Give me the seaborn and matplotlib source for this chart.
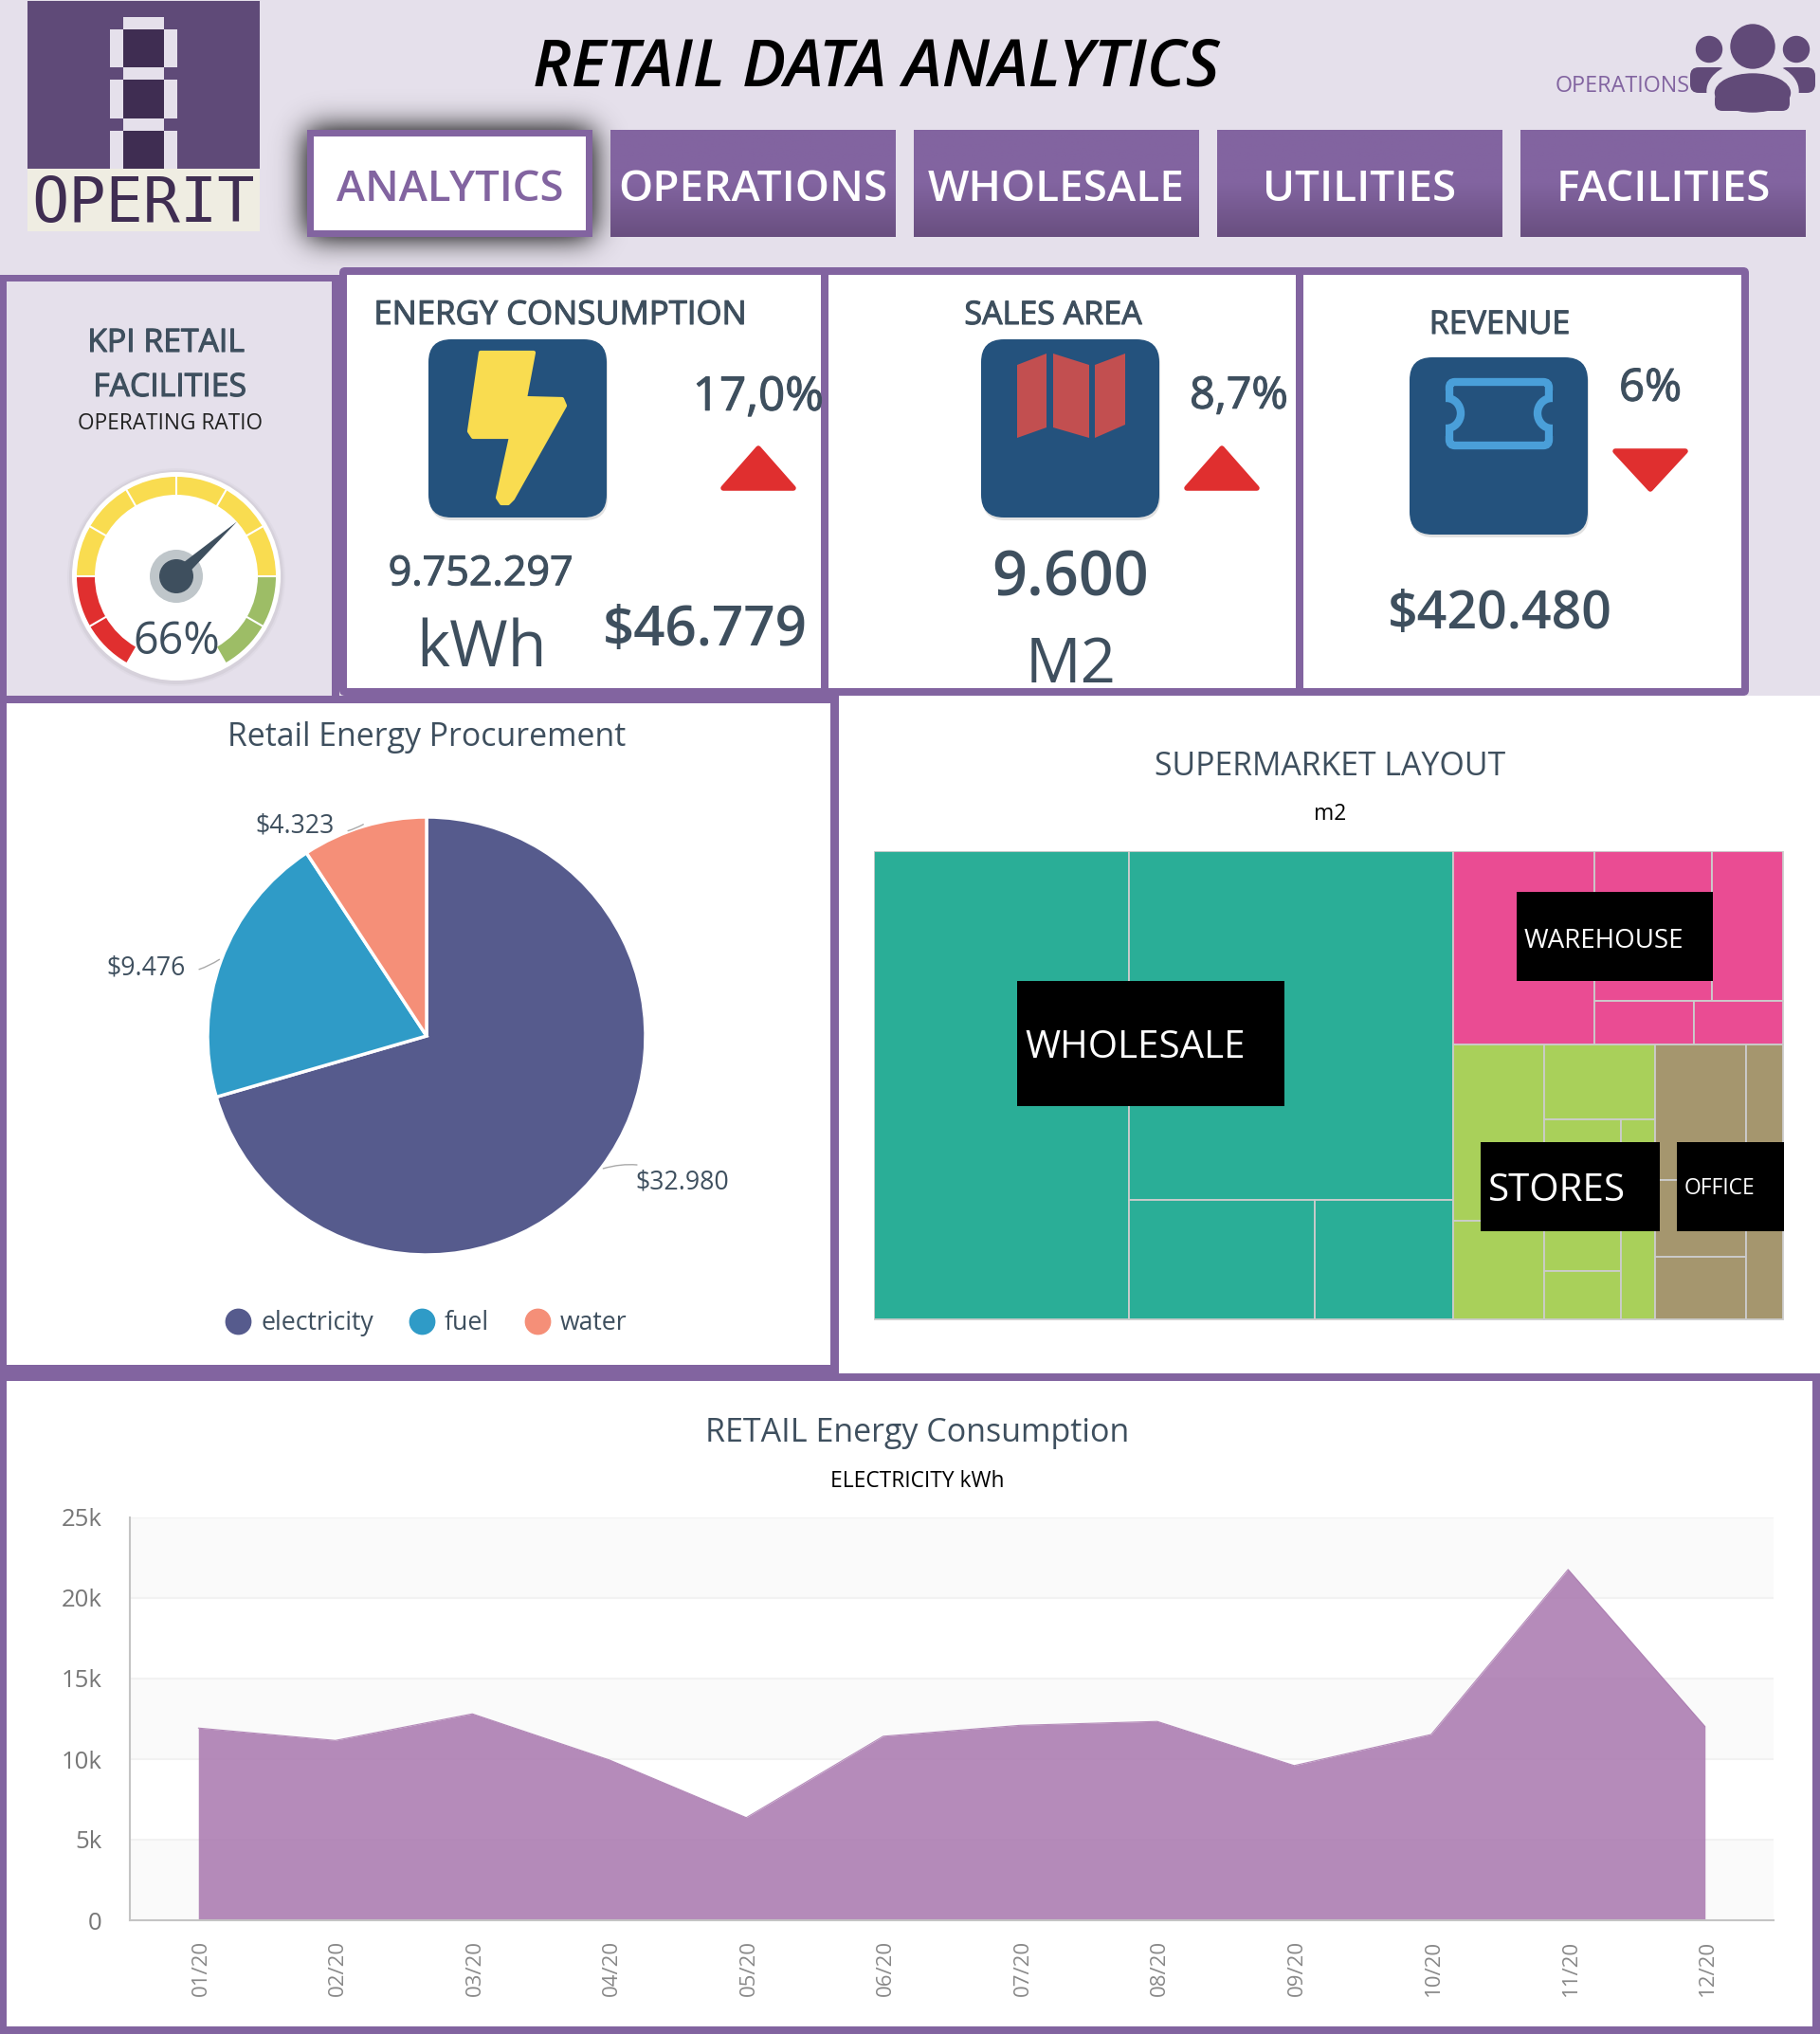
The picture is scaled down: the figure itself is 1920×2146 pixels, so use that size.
"""Retail data analytics dashboard: KPI cards, procurement pie, layout treemap, energy area chart."""
import math

import matplotlib
matplotlib.use("Agg")
import matplotlib.patheffects as pe
import matplotlib.pyplot as plt
import numpy as np
import pandas as pd
import seaborn as sns
from matplotlib.colors import LinearSegmentedColormap
from matplotlib.lines import Line2D
from matplotlib.patches import Circle, Ellipse, FancyBboxPatch, Polygon, Rectangle, Wedge
from matplotlib.transforms import ScaledTranslation

W, H = 1920, 2146

LILAC = "#E5E0EB"
PURPLE = "#8264A0"
DARK_PURPLE = "#5F4A78"
SLATE = "#3E4F5E"
NAVY = "#24527D"
RED = "#E02F2F"

NAV_LABELS = ["ANALYTICS", "OPERATIONS", "WHOLESALE", "UTILITIES", "FACILITIES"]

GAUGE_VALUE = 66
GAUGE_BANDS = [(0, 20, "#E02F2F"), (20, 80, "#F9DC50"), (80, 100, "#9DBD66")]

PIE_NAMES = ["electricity", "fuel", "water"]
PIE_VALUES = [32980, 9476, 4323]
PIE_LABELS = ["$32.980", "$9.476", "$4.323"]
PIE_COLORS = ["#565B8D", "#2F9BC7", "#F58F78"]

# treemap leaves in m2, nested as (split direction, children)
WHOLESALE_CELLS = ("x", [2693, ("y", [2550, ("x", [500, 373])])])
WAREHOUSE_CELLS = ("x", [616, ("y", [("x", [397, 240]), ("x", [98, 88])])])
STORES_CELLS = ("x", [("y", [362, 202]), ("y", [187, ("x", [("y", [263, 84]), 154])])])
OFFICE_CELLS = ("x", [("y", [278, 158, 128]), 229])
TREE_COLORS = ["#2AAE97", "#EA4C93", "#A9D05A", "#A5966E"]

MONTHS = ["01/20", "02/20", "03/20", "04/20", "05/20", "06/20",
          "07/20", "08/20", "09/20", "10/20", "11/20", "12/20"]
KWH = [11930, 11160, 12810, 9950, 6370, 11420, 12100, 12340, 9600, 11530, 21770, 12020]
Y_TICKS = [0, 5000, 10000, 15000, 20000, 25000]
Y_TICK_LABELS = ["0", "5k", "10k", "15k", "20k", "25k"]

sns.set_theme(style="white")
plt.rcParams["font.family"] = ["Open Sans", "DejaVu Sans"]


def px_axes(fig, x0, y0, x1, y1, z=1):
    ax = fig.add_axes([x0 / W, 1 - y1 / H, (x1 - x0) / W, (y1 - y0) / H], zorder=z)
    ax.patch.set_alpha(0)
    return ax


def rect(ax, x0, y0, x1, y1, color, z=1, alpha=1.0):
    ax.add_patch(Rectangle((x0, y0), x1 - x0, y1 - y0, facecolor=color, edgecolor="none", zorder=z, alpha=alpha))


def rounded(ax, x0, y0, x1, y1, r, color, z=1, alpha=1.0):
    ax.add_patch(FancyBboxPatch((x0, y0), x1 - x0, y1 - y0, boxstyle=f"round,pad=0,rounding_size={r}",
                                facecolor=color, edgecolor="none", zorder=z, alpha=alpha))


def text(ax, x, y, s, size, color=SLATE, weight=400, ha="center", va="center", medium=False, **kw):
    # y is the visual centre of the capitals, Open Sans sits a little high with va=center
    t = ax.text(x, y + 7, s, fontsize=size, color=color, fontweight=weight, ha=ha, va=va, zorder=20, **kw)
    if medium:
        t.set_path_effects([pe.withStroke(linewidth=0.8, foreground=color)])


def arrow(ax, cx, up):
    if up:
        pts = [(cx - 37, 515), (cx + 37, 515), (cx, 473)]
    else:
        pts = [(cx - 37, 476), (cx + 37, 476), (cx, 516)]
    ax.add_patch(Polygon(pts, closed=True, facecolor=RED, edgecolor=RED, lw=4, joinstyle="round", zorder=5))


def icon_box(ax, x0, y0, x1, y1):
    rounded(ax, x0 + 1, y0 + 3, x1 + 1, y1 + 3, 24, "#888888", z=3, alpha=0.25)
    rounded(ax, x0, y0, x1, y1, 24, NAVY, z=4)


def soft_shadow(ax, x0, y0, x1, y1, blur=22, margin=50):
    erf = np.vectorize(math.erf)

    def profile(v, lo, hi):
        return 0.5 * (erf((v - lo) / blur) - erf((v - hi) / blur))

    xs = np.arange(x0 - margin, x1 + margin) + 0.5
    ys = np.arange(y0 - margin, y1 + margin) + 0.5
    alpha = np.outer(profile(ys, y0, y1), profile(xs, x0, x1))
    img = np.zeros(alpha.shape + (4,))
    img[..., :3] = 0.1
    img[..., 3] = np.clip(alpha * 1.25, 0, 1)
    ax.imshow(img, extent=(x0 - margin, x1 + margin, y1 + margin, y0 - margin), aspect="auto",
              origin="upper", zorder=2)


def draw_logo(ax):
    rect(ax, 29, 1, 274, 178, DARK_PURPLE, z=2)
    rect(ax, 29, 178, 274, 244, "#EFEDE2", z=2)
    rect(ax, 116, 18, 187, 178, LILAC, z=3)
    rect(ax, 116, 18, 130, 31, DARK_PURPLE, z=4)
    rect(ax, 173, 18, 187, 31, DARK_PURPLE, z=4)
    for top, bottom in [(31, 71), (84, 125), (138, 178)]:
        rect(ax, 130, top, 173, bottom, "#3F2D52", z=4)
    for y0 in (71, 125):
        rect(ax, 116, y0, 130, y0 + 13, DARK_PURPLE, z=4)
        rect(ax, 173, y0, 187, y0 + 13, DARK_PURPLE, z=4)
    text(ax, 151, 209, "OPERIT", 47, color="#3F2D52", family="DejaVu Sans Mono")


def draw_people(ax):
    color = "#614A78"
    ax.add_patch(Ellipse((1849, 49), 46, 46, color=color, zorder=4))
    ax.add_patch(Ellipse((1803, 52), 27, 27, color=color, zorder=4))
    ax.add_patch(Ellipse((1895, 52), 27, 27, color=color, zorder=4))
    rounded(ax, 1783, 71, 1822, 98, 9, color, z=3)
    rounded(ax, 1876, 71, 1915, 98, 9, color, z=3)
    ax.add_patch(Ellipse((1849, 96), 96, 62, color=LILAC, zorder=3.5))
    ax.add_patch(Ellipse((1849, 98), 79, 40, color=color, zorder=4))
    rounded(ax, 1809, 97, 1888, 117, 8, color, z=4)


def draw_nav(ax):
    grad = LinearSegmentedColormap.from_list("nav", [PURPLE, PURPLE, "#694F80"])
    xs = [324, 644, 964, 1284, 1604]
    for x0, label in zip(xs, NAV_LABELS):
        x1 = x0 + 301
        if label == "ANALYTICS":
            soft_shadow(ax, x0, 137, x1, 250)
            rect(ax, x0, 137, x1, 250, PURPLE, z=3)
            rect(ax, x0 + 7, 144, x1 - 7, 243, "white", z=4)
            text(ax, (x0 + x1) / 2, 193, label, 32.8, color=PURPLE, weight=600)
        else:
            ax.imshow(np.linspace(0, 1, 64).reshape(-1, 1), extent=(x0, x1, 250, 137), cmap=grad,
                      aspect="auto", origin="upper", zorder=3)
            text(ax, (x0 + x1) / 2, 193, label, 33, color="white", weight=600)


def draw_cards(ax):
    rect(ax, 0, 290, 358, 740, PURPLE, z=2)
    rect(ax, 7, 297, 350, 734, LILAC, z=3)
    rounded(ax, 358, 282, 1845, 734, 6, PURPLE, z=2)
    rect(ax, 366, 290, 866, 726, "white", z=3)
    rect(ax, 874, 290, 1367, 726, "white", z=3)
    rect(ax, 1375, 290, 1837, 726, "white", z=3)

    text(ax, 175, 355, "KPI RETAIL", 24.3, medium=True)
    text(ax, 179, 402, "FACILITIES", 24.3, medium=True)
    text(ax, 179, 440, "OPERATING RATIO", 16.3, color="#222222")

    # energy
    text(ax, 591, 326, "ENERGY CONSUMPTION", 25, medium=True)
    icon_box(ax, 452, 358, 640, 546)
    bolt = [(507, 372), (563, 372), (554, 420), (593, 421), (596, 428), (541, 526),
            (536, 531), (529, 531), (525, 525), (539, 461), (499, 461), (495, 455)]
    ax.add_patch(Polygon(bolt, closed=True, facecolor="#F9DC50", edgecolor="#F9DC50", lw=3,
                         joinstyle="round", zorder=5))
    text(ax, 800, 413, "17,0%", 35.5, medium=True)
    arrow(ax, 800, True)
    text(ax, 507, 599, "9.752.297", 31, medium=True)
    text(ax, 508, 678, "kWh", 48)
    text(ax, 744, 659, "$46.779", 42, weight=600)

    # sales area
    text(ax, 1111, 326, "SALES AREA", 24.5, medium=True)
    icon_box(ax, 1035, 358, 1223, 546)
    map_panels = [[(1073, 385), (1104, 373), (1104, 451), (1073, 462)],
                  [(1111, 373), (1149, 385), (1149, 462), (1111, 451)],
                  [(1155, 385), (1187, 373), (1187, 448), (1155, 462)]]
    for pts in map_panels:
        ax.add_patch(Polygon(pts, closed=True, facecolor="#C24F50", edgecolor="none", zorder=5))
    text(ax, 1307, 411, "8,7%", 33.5, medium=True)
    arrow(ax, 1289, True)
    text(ax, 1129, 605, "9.600", 46.5, weight=600)
    text(ax, 1130, 696, "M2", 47)

    # revenue
    text(ax, 1582, 336, "REVENUE", 24.5, medium=True)
    icon_box(ax, 1487, 377, 1675, 564)
    blue = "#4A9FD9"
    ax.add_patch(FancyBboxPatch((1529, 403), 105, 67, boxstyle="round,pad=0,rounding_size=6", facecolor="none",
                                edgecolor=blue, lw=6, zorder=5))
    for cx in (1526, 1637):
        ax.add_patch(Ellipse((cx, 436), 30, 32, facecolor=NAVY, edgecolor=blue, lw=6, zorder=6))
    rect(ax, 1503, 412, 1525, 460, NAVY, z=7)
    rect(ax, 1638, 412, 1660, 460, NAVY, z=7)
    text(ax, 1741, 403, "6%", 34, medium=True)
    arrow(ax, 1741, False)
    text(ax, 1582, 642, "$420.480", 40, weight=600)


def draw_gauge(fig):
    cx, cy, span = 186, 608, 118
    ax = px_axes(fig, cx - span, cy - span, cx + span, cy + span, z=3)
    ax.set(xlim=(-span, span), ylim=(-span, span))
    ax.axis("off")

    def angle(v):
        return 240 - 3 * v

    for r, a in [(115, 0.06), (113, 0.1)]:
        ax.add_patch(Circle((0, -1), r, color="#888888", alpha=a, lw=0))
    ax.add_patch(Circle((0, 0), 110, color="white", lw=0))
    for lo, hi, color in GAUGE_BANDS:
        ax.add_patch(Wedge((0, 0), 105, angle(hi), angle(lo), width=19, facecolor=color, edgecolor="none"))
    for v in range(10, 100, 10):
        t = np.radians(angle(v))
        ax.plot([86 * np.cos(t), 105 * np.cos(t)], [86 * np.sin(t), 105 * np.sin(t)], color="white", lw=1.5)
    ax.add_patch(Circle((0, 0), 28, color="#BFC6CA", lw=0))
    ax.add_patch(Circle((0, 0), 18, color=SLATE, lw=0))
    t = np.radians(angle(GAUGE_VALUE))
    tip = (86 * np.cos(t), 86 * np.sin(t))
    nx, ny = -np.sin(t) * 7, np.cos(t) * 7
    ax.add_patch(Polygon([(nx, ny), tip, (-nx, -ny)], closed=True, color=SLATE, lw=0))
    ax.text(0, -69, f"{GAUGE_VALUE}%", fontsize=33.5, color=SLATE, ha="center", va="center")


def draw_pie(fig):
    ax = px_axes(fig, 7, 742, 876, 1440, z=2)
    palette = sns.color_palette(PIE_COLORS)
    ax.pie(PIE_VALUES, colors=palette, startangle=90, counterclock=False, radius=231,
           wedgeprops={"edgecolor": "white", "linewidth": 2.5})
    ax.set(xlim=(-443, 426), ylim=(-347, 351))

    total = sum(PIE_VALUES)
    start = 90
    offsets = [(220, -155, "left"), (-254, 72, "right"), (-97, 221, "right")]
    for val, label, (tx, ty, ha) in zip(PIE_VALUES, PIE_LABELS, offsets):
        sweep = val / total * 360
        mid = np.radians(start - sweep / 2)
        start -= sweep
        ax.annotate(label, xy=(233 * np.cos(mid), 233 * np.sin(mid)), xytext=(tx, ty), fontsize=19.2, color=SLATE,
                    ha=ha, va="center",
                    arrowprops={"arrowstyle": "-", "color": "#AAAAAA", "lw": 1,
                                "connectionstyle": "arc3,rad=0.25", "shrinkA": 8, "shrinkB": 0})

    handles = [Line2D([], [], marker="o", ls="", color=c, markersize=19) for c in palette]
    leg = ax.legend(handles, PIE_NAMES, ncol=3, loc="center", bbox_to_anchor=(-7, -303), bbox_transform=ax.transData,
                    frameon=False, fontsize=19.2, handletextpad=-0.1, columnspacing=0.9, labelcolor=SLATE)
    leg.set_zorder(5)


def node_total(node):
    if isinstance(node, tuple):
        return sum(node_total(k) for k in node[1])
    return node


def layout(node, x, y, w, h, out):
    """Slice a nested cell spec into (x, y, w, h) boxes, sized by the leaf values."""
    if not isinstance(node, tuple):
        out.append((x, y, w, h))
        return
    direction, kids = node
    total = node_total(node)
    for kid in kids:
        frac = node_total(kid) / total
        if direction == "x":
            layout(kid, x, y, w * frac, h, out)
            x += w * frac
        else:
            layout(kid, x, y, w, h * frac, out)
            y += h * frac


def draw_treemap(fig):
    # one extra pixel on the right and bottom so only those outer edges show their line
    ax = px_axes(fig, 922, 898, 1882, 1393, z=2)
    ax.set(xlim=(0, 960 / 959), ylim=(495 / 494, 0))
    ax.axis("off")
    whole = node_total(WHOLESALE_CELLS)
    ware = node_total(WAREHOUSE_CELLS)
    stores = node_total(STORES_CELLS)
    office = node_total(OFFICE_CELLS)

    left_w = whole / (whole + ware + stores + office)
    top_h = ware / (ware + stores + office)
    mid_w = (1 - left_w) * stores / (stores + office)
    parts = [(WHOLESALE_CELLS, 0, 0, left_w, 1),
             (WAREHOUSE_CELLS, left_w, 0, 1 - left_w, top_h),
             (STORES_CELLS, left_w, top_h, mid_w, 1 - top_h),
             (OFFICE_CELLS, left_w + mid_w, top_h, 1 - left_w - mid_w, 1 - top_h)]
    for (node, x, y, w, h), color in zip(parts, TREE_COLORS):
        cells = []
        layout(node, x, y, w, h, cells)
        xs, ys, ws, hs = zip(*cells)
        ax.bar(xs, hs, width=ws, bottom=ys, align="edge", color=color, edgecolor="#CCCCCC", linewidth=1.3)


def draw_treemap_labels(ax):
    boxes = [("WHOLESALE", 1073, 1035, 1355, 1167, 1081, 1099, 29),
             ("WAREHOUSE", 1600, 941, 1807, 1035, 1608, 986, 20),
             ("STORES", 1562, 1205, 1751, 1299, 1570, 1250, 29),
             ("OFFICE", 1769, 1205, 1882, 1299, 1777, 1247, 16.5)]
    for label, x0, y0, x1, y1, tx, ty, size in boxes:
        rect(ax, x0, y0, x1, y1, "black", z=10)
        text(ax, tx, ty, label, size, color="white", ha="left")


def draw_area(fig):
    ax = px_axes(fig, 137, 1601, 1871, 2026, z=2)
    df = pd.DataFrame({"month": MONTHS, "kwh": KWH})
    for lo, hi in [(0, 5000), (10000, 15000), (20000, 25000)]:
        ax.axhspan(lo, hi, color="#FAFAFA", lw=0, zorder=0)
    ax.hlines(Y_TICKS[1:], -0.5, 11.5, color="#F2F2F2", lw=1.5, zorder=1)
    sns.lineplot(data=df, x="month", y="kwh", ax=ax, color="#A877AE", alpha=0.85, lw=0.8, sort=False, zorder=3)
    ax.fill_between(range(len(MONTHS)), KWH, color="#A877AE", alpha=0.85, lw=0, zorder=2)
    ax.set(xlim=(-0.5, 11.5), ylim=(0, 25000), xlabel="", ylabel="")
    ax.set_yticks(Y_TICKS, Y_TICK_LABELS)
    ax.set_xticks(range(len(MONTHS)), MONTHS)
    ax.tick_params(axis="y", labelsize=18.5, labelcolor="#777777", length=0, pad=21)
    ax.tick_params(axis="x", labelsize=16, labelcolor="#888888", length=0, pad=15, rotation=90)
    nudge = ScaledTranslation(3 / 100, 0, fig.dpi_scale_trans)
    for lab in ax.get_xticklabels():
        lab.set_transform(lab.get_transform() + nudge)
    sns.despine(ax=ax)
    for side in ("left", "bottom"):
        ax.spines[side].set_color("#C4C4C4")
        ax.spines[side].set_linewidth(1.5)


def main():
    fig = plt.figure(figsize=(W / 100, H / 100), dpi=100)
    canvas = px_axes(fig, 0, 0, W, H, z=0)

    rect(canvas, 0, 0, W, H, LILAC, z=0.5)
    rect(canvas, 0, 734, W, H, PURPLE, z=1)
    rect(canvas, 7, 742, 876, 1440, "white", z=1.5)
    rect(canvas, 885, 734, W, 1449, "white", z=1.5)
    rect(canvas, 7, 1457, 1912, 2138, "white", z=1.5)

    draw_logo(canvas)
    text(canvas, 924, 66, "RETAIL DATA ANALYTICS", 49.7, color="black", weight=600, style="italic")
    text(canvas, 1712, 84, "OPERATIONS", 16.8, color=PURPLE)
    draw_people(canvas)
    draw_nav(canvas)
    draw_cards(canvas)

    text(canvas, 450, 771, "Retail Energy Procurement", 24.4)
    text(canvas, 1403, 802, "SUPERMARKET LAYOUT", 24.4)
    text(canvas, 1403, 852, "m2", 16.4, color="black")
    text(canvas, 968, 1505, "RETAIL Energy Consumption", 24.5)
    text(canvas, 968, 1556, "ELECTRICITY kWh", 16.4, color="black")

    canvas.set(xlim=(0, W), ylim=(H, 0))
    canvas.axis("off")

    draw_gauge(fig)
    draw_pie(fig)
    draw_treemap(fig)
    draw_area(fig)

    over = px_axes(fig, 0, 0, W, H, z=5)
    over.set(xlim=(0, W), ylim=(H, 0))
    over.axis("off")
    draw_treemap_labels(over)

    fig.savefig("out.png", dpi=100)


if __name__ == "__main__":
    main()
